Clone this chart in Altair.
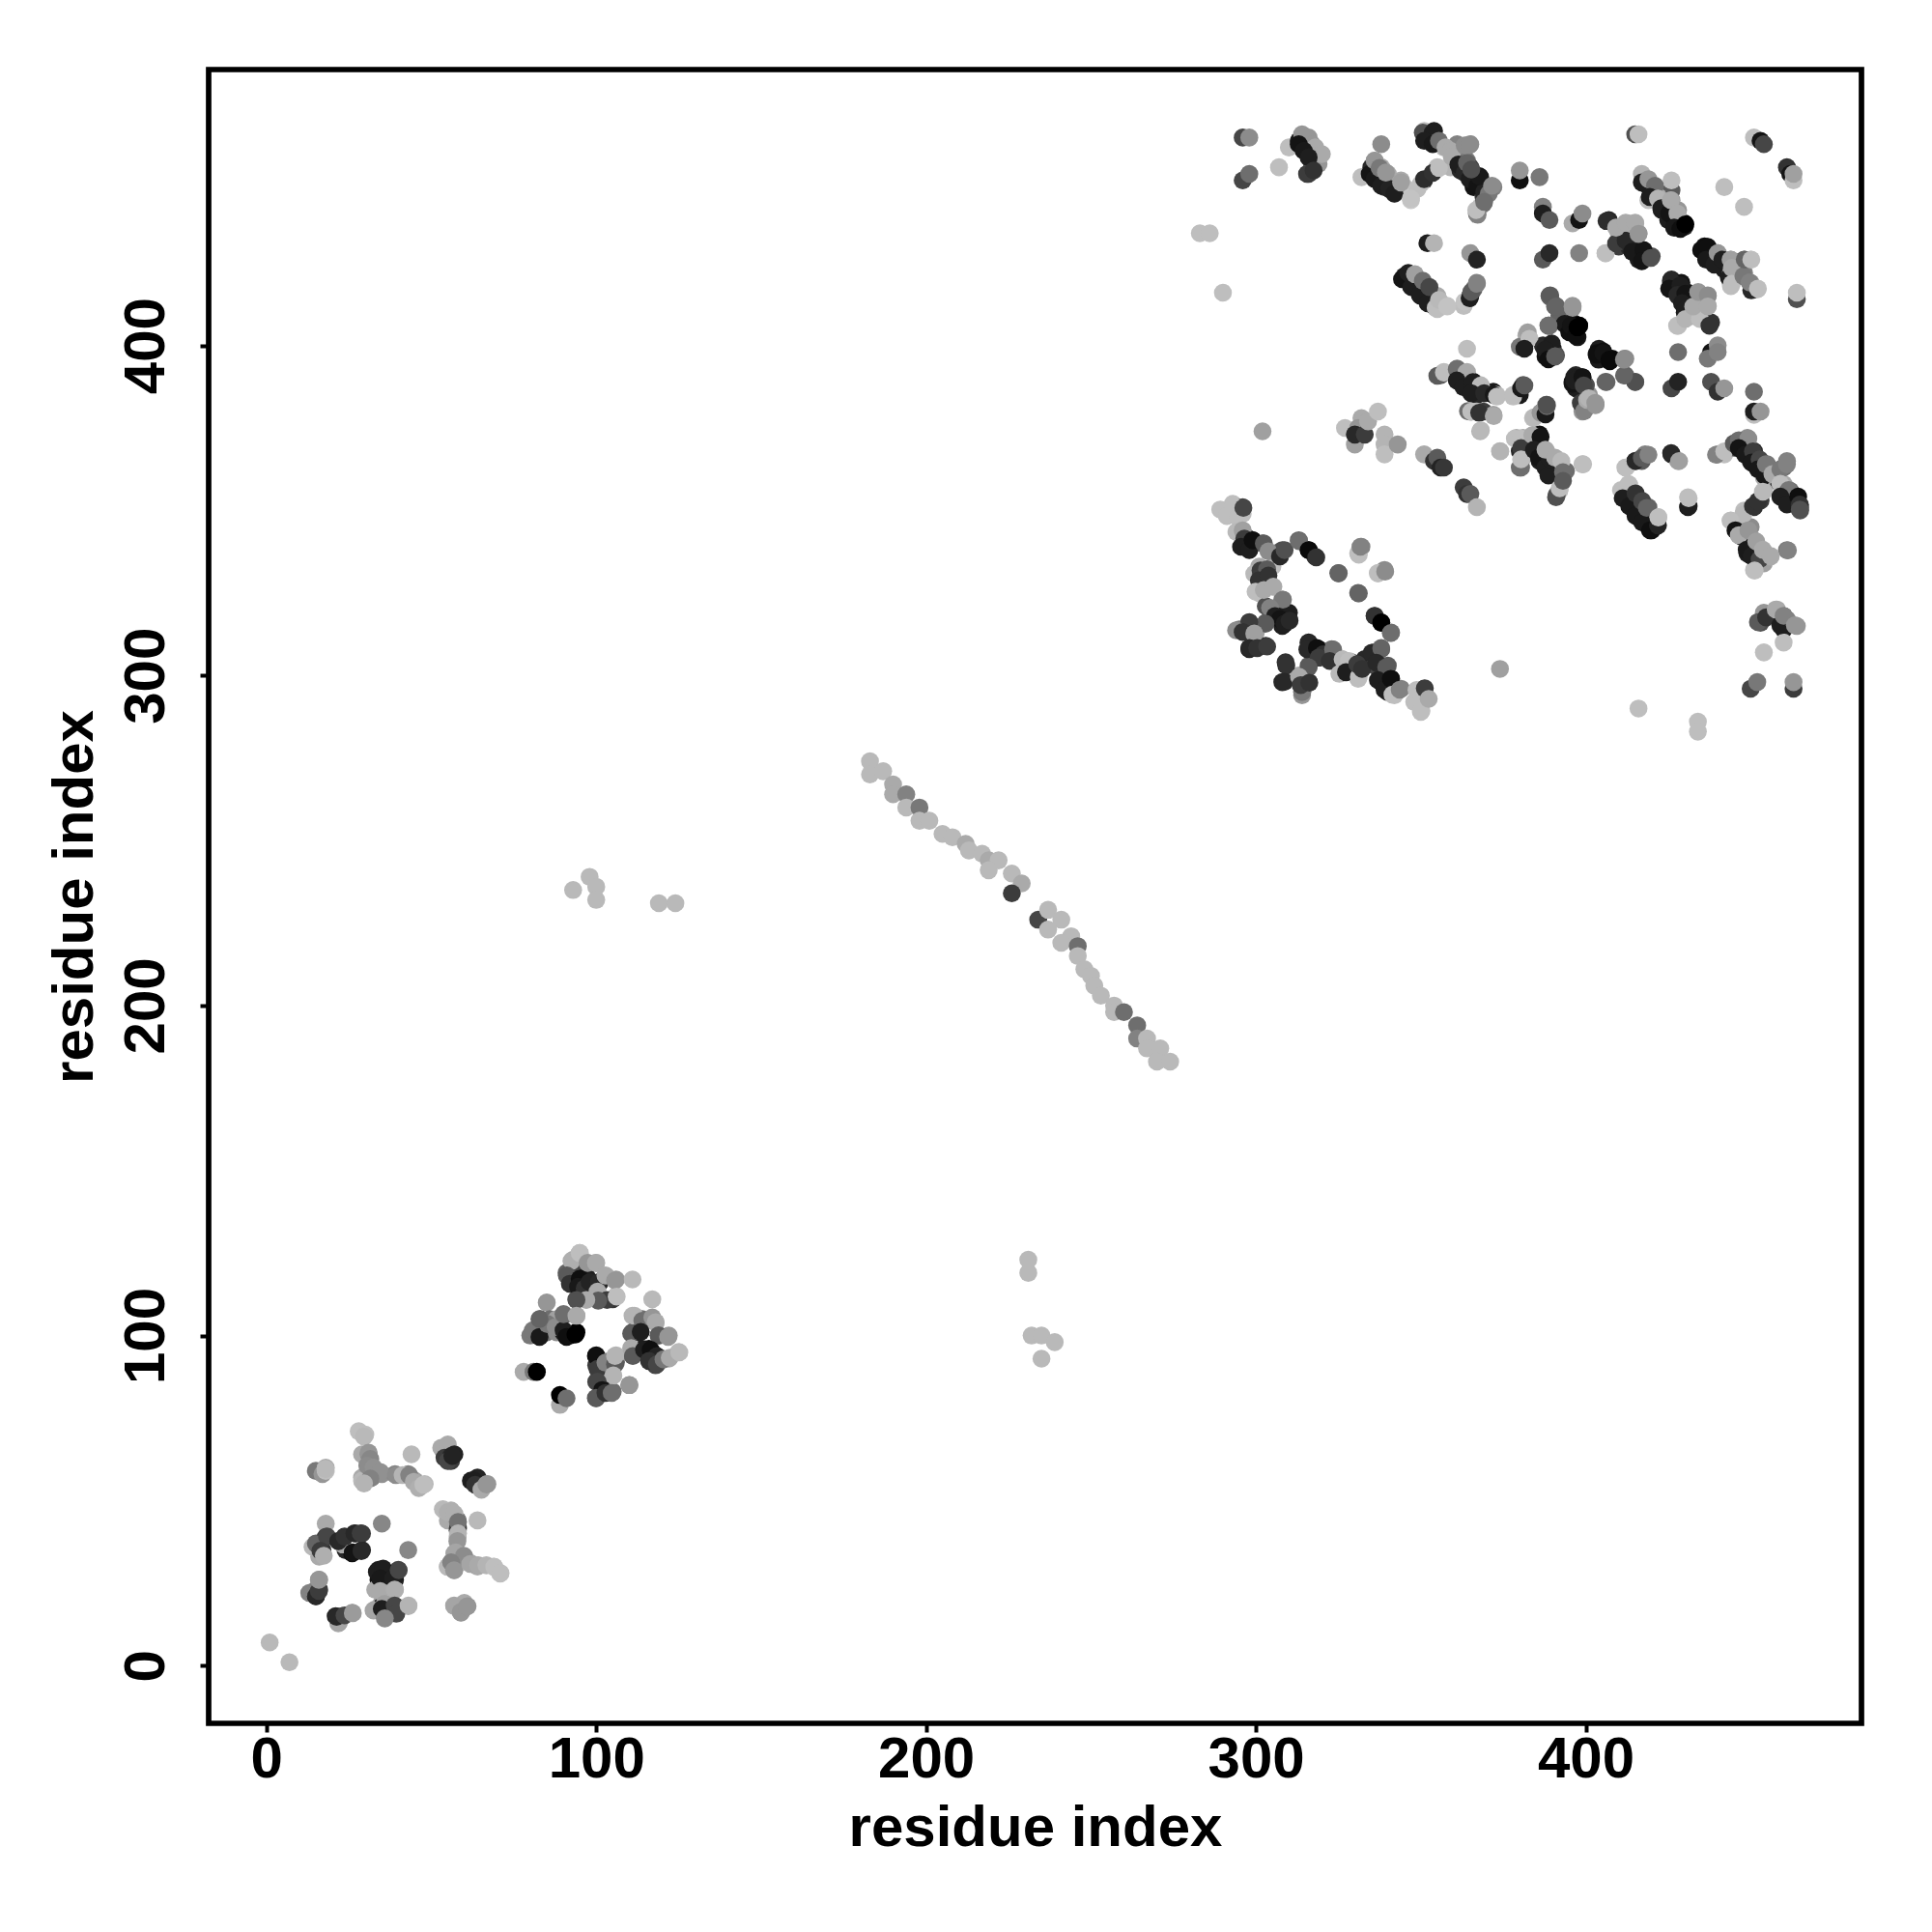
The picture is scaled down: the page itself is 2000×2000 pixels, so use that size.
import altair as alt
import pandas as pd

# (residue index x, residue index y, grey level 0-255), in drawing order
cluster_a = [(28,71,190),(30,70,190),(29,64,170),(31,64,140),(15,59,120),(18,60,170),(17,58,150),(18,59,190),
(29,57,170),(29,56,185),(32,57,120),(35,58,145),(39,58,130),(43,58,130),(45,56,160),(48,55,185),(44,64,185),
(53,66,170),(55,67,170),(54,63,60),(56,62,60),(57,64,35),(62,56,30),(64,57,35),(65,54,165),(67,55,150),
(54,47,190),(56,47,175),(55,44,170),(58,41,50),(58,44,115),(64,44,185),(58,39,165),(57,34,160),(60,33,130),
(55,30,190),(56,30,100),(57,29,150),(62,31,165),(64,30,170),(69,30,190),(71,28,190),(18,43,170),(35,43,135),(43,35,135),
(14,36,185),(15,37,100),(16,33,170),(18,39,60),(17,35,50),(23,38,170),(24,35,40),(27,40,30),(29,40,60),(26,34,15),(29,35,40),
(13,22,130),(15,21,30),(16,23,60),(16,26,145),(22,13,170),(21,15,35),(23,15,60),(26,16,150),
(34,29,30),(34,26,20),(36,28,15),(39,26,30),(40,29,70),(33,23,170),(39,23,175),(35,19,160),(33,17,165),(35,18,30),(39,18,70),(36,15,130),(43,18,180),
(57,18,165),(59,16,150),(60,19,170),(61,18,150),(1,7,185),(7,1,185)]

cluster_a_fine = [(29.6,69.4,185),(31,64.5,150),(31.5,62.6,135),(30.6,60.6,140),(32.5,60,145),(34.5,58.7,145),(31.5,56.7,130),(29.6,55.2,180),(39.3,57.7,140),(41.3,57.7,180),(43.3,57.7,130),(44.7,55.7,170),(46.2,53.8,175),(47.6,54.8,190),
(17.9,59.6,185),(56,63.5,40),(55,62,70),(56.4,63.5,35),(62.8,56.2,30),(63.3,54.8,50),(65.2,53.3,170),(66.7,54.9,150),
(53.5,47.4,185),(55,46.5,175),(57,46,175),(58.1,41.6,60),(58.1,43.5,115),(58.1,40.1,180),(57.9,37.7,150),(57.4,34.3,165),(59.9,33.3,140),(55,29.9,185),(56,31.3,130),(56.9,28.9,150),(61.8,30.8,165),(64.2,30.4,170),(66.7,30.4,180),(69.1,29.9,190),(70.9,27.9,190),
(15.4,36.7,100),(18.4,39.1,70),(16.4,34.8,60),(17.4,33.3,175),(23.2,36.7,170),(21.8,37.7,40),(23.7,39.1,50),(26.7,40.1,40),(28.6,40.1,60),(26.2,34.3,20),(28.8,34.7,40),
(14.5,22.6,130),(15.1,21.1,40),(15.9,22.6,60),(15.9,26,150),(21.8,12.8,165),(21.3,14.8,40),(23.7,15.2,70),(26.2,15.9,155),
(33.5,28.4,30),(35.4,29.4,30),(34.5,26.4,25),(38.4,26.4,30),(40.1,28.9,70),(34.5,22.6,170),(38.9,23,175),(35.9,18.7,160),(32.5,16.7,165),(35,17.2,30),(38.9,18.2,70),(39.4,15.7,70),(35.9,14.3,135),(43.1,18.2,180),
(56.9,18.2,165),(58.9,16.2,150),(60.8,17.9,150)]

cluster_b = [(95,125,190),(93,123,170),(97,122,150),(100,122,170),(91,119,100),(93,120,60),(95,121,70),(97,118,30),(95,117,15),(93,116,30),
(97,114,50),(94,111,80),(97,111,170),(103,118,170),(101,116,40),(106,117,150),(111,117,185),(100,114,170),(101,111,90),(105,111,50),(106,112,190),
(117,111,185),(111,106,180),(114,105,110),(117,105,150),(118,104,170),(111,101,90),(113,101,30),(119,100,90),(122,100,150),(111,96,170),(111,94,90),
(114,96,30),(116,96,15),(118,94,35),(116,93,50),(118,91,70),(120,93,120),(122,93,170),(125,95,185),(85,110,150),
(83,105,90),(90,106,100),(94,106,170),(86,105,110),(88,105,160),(80,100,120),(83,101,25),(85,101,120),(88,101,140),(90,101,30),(92,100,15),(94,101,0),
(78,89,170),(81,89,120),(82,89,0),(89,79,170),(89,82,0),(91,81,110),
(100,94,15),(100,91,60),(103,92,120),(106,92,90),(106,94,180),(105,88,180),(100,86,70),(102,84,20),(100,81,90),(102,83,50),(105,83,110),(110,85,150)]

cluster_b_fine = [(92.5,122.6,175),(95,125,190),(97.4,122,150),(99.9,122,170),(91.1,118.2,90),(92,115.7,50),(95,117.2,15),(94.5,114.8,25),(96.5,114.3,50),(98,116.2,35),(100.8,116.2,40),(102.8,118.2,170),(105.7,116.7,150),(100.4,113.3,170),(103.3,110.8,60),(100.6,110.6,90),(106.2,111.8,190),(97,110.8,170),(94,110.8,80),
(111.6,106,180),(114,104.5,110),(117,105.5,150),(118,104,170),(110.6,100.6,90),(113.5,101.1,30),(118.9,100.1,90),(121.8,99.6,150),(110.6,96.2,170),(111.1,93.8,90),(114.5,95.7,30),(116.5,95.7,15),(118.4,93.8,35),(116,92.3,50),(118.4,91.3,70),(120.4,92.8,120),(122.3,93.3,170),(125.2,94.9,185),
(80.8,101.6,120),(82.8,99.6,25),(85.2,103.5,120),(87.7,102.6,140),(90.1,101.6,30),(91,99.6,15),(93.7,100.3,0),(82.8,105,100),(90.1,106.5,110),(94,106,170),
(99.9,93.8,15),(100.4,89.9,60),(102.8,91.8,130),(105.7,91.3,90),(105.7,93.8,180),(105.2,87.9,180),(100.4,86,70),(101.8,83.5,20),(99.9,81.1,90),(102.8,82.6,50),(104.7,82.6,110),(110.1,85,150)]

off_diagonal = [(93,235,185),(98,239,185),(100,236,185),(100,232,185),(119,231,185),(124,231,185),
(231,123,185),(231,119,185),(232,100,185),(235,100,185),(239,98,185),(235,93,185)]

strand_pair = [(183,274,185),(183,270,185),(187,271,185),(190,267,170),(190,264,170),(194,264,130),(194,260,185),(198,260,120),(198,256,185),(201,256,185),
(205,252,185),(208,251,185),(212,249,170),(213,247,185),(217,246,185),(219,244,170),(222,244,185),(219,241,185),(226,240,185),(229,237,170),(226,234,60),
(234,226,70),(237,229,185),(241,226,185),(237,223,185),(244,221,185),(241,219,185),(246,218,110),(246,215,185),(248,211,185),(250,209,185),(251,206,185),
(253,203,185),(257,200,185),(257,198,185),(260,198,110),(264,194,110),(264,190,130),(267,190,185),(267,187,185),(271,187,185),(270,183,185),(274,183,185)]

domain_top_left = [(296,463,70),(298,463,140),(296,450,70),(298,452,110),(310,460,190),(307,454,190),(316,452,70),(317,455,90),(317,453,170),(319,455,150),
(313,462,30),(315,461,30),(316,460,40),(314,464,150),(316,463,150),(317,461,150),(318,460,170),(320,458,170),
(338,461,140),(332,451,190),(336,456,170),(335,454,40),(338,454,170),(337,450,30),(340,452,170),(339,448,50),(341,447,60),(344,450,170),(342,446,190),(345,448,190),(347,446,200),(347,444,200),
(351,465,190),(352,464,30),(354,465,30),(353,462,50),(355,462,110),(351,450,50),(350,449,190),(355,454,190),(357,460,190),(359,454,180),(360,459,150),(361,461,130),(365,461,140),(364,456,120),(365,454,60),(362,453,40),(366,452,60),(368,451,30),(366,448,20),
(367,440,110),(368,442,190),(369,443,110),(369,445,60),(369,446,50),(372,448,130),
(380,450,15),(380,453,150),(386,451,120),(387,442,130),(387,440,30),(389,438,90),(396,437,170),(398,438,20),(399,440,140)]

domain_top_mid = [(407,438,40),(406,428,190),(410,430,60),(413,430,40),(415,428,30),(417,429,20),(416,426,30),(420,427,80),(410,434,170),(413,437,170),(415,437,170),(416,434,150),
(387,426,90),(389,428,40),(398,428,130),(352,431,30),(354,431,180),(365,428,150),(367,426,35),(283,434,190),(286,434,190),(290,416,190),
(345,421,30),(347,421,130),(349,420,140),(347,418,30),(351,417,90),(350,415,30),(353,415,60),(355,415,170),(354,412,30),(355,411,190),(358,412,195),(363,412,190),(365,415,30),(366,417,100),(367,419,130),
(417,452,180),(419,450,150),(418,449,30),(421,448,120),(426,447,90),(426,450,190),(419,444,190),(422,445,170),(426,444,140),(423,441,30),(428,441,150),(425,438,30),(427,436,20),(430,436,40),(430,437,0),
(415,464,80),(416,464,190),(451,463,190),(453,462,20),(454,461,70),(461,454,50),(462,452,20),(463,450,190),(463,452,160),(442,448,190),(448,442,190)]

domain_top_right = [(436,430,15),(437,428,25),(440,428,150),(441,426,60),(444,426,150),(442,423,30),(444,422,170),(448,426,90),(450,426,190),(448,422,130),(444,419,40),(444,418,190),(450,419,150),(451,417,60),(452,417,190),
(464,414,80),(464,416,190),(426,420,40),(427,418,30),(429,419,20),(428,415,30),(431,416,20),(430,410,30),(428,406,190),(438,407,50),(432,409,150),(433,412,170),(434,416,150),(437,415,140),(437,412,170),
(389,415,90),(391,412,110),(389,406,110),(392,409,100),(396,412,150),(396,407,20),(397,404,15),(398,406,0),
(381,400,150),(382,403,170),(383,402,190),(387,400,40),(390,399,30),(388,397,15),(391,397,80),(404,399,30),(405,397,15),(408,396,10),(406,389,100),(415,389,80),(412,391,100),(412,396,140),
(428,398,110),(438,398,20),(437,396,120),(440,400,140),(440,398,130),(426,387,70),(428,389,35),(438,389,80),(440,386,50),(442,387,150),(451,386,110),(451,379,190),(451,380,30),(453,380,150)]

domain_mid = [(397,391,40),(396,389,15),(400,388,70),(397,387,30),(399,380,150),(400,381,100),(401,385,150),(403,382,140),(364,399,190),
(356,391,90),(357,392,190),(361,393,120),(364,392,170),(362,389,20),(364,387,30),(366,389,30),(368,388,190),(367,385,40),(372,386,25),(373,385,190),(378,385,190),(380,385,25),(381,388,90),
(365,380,90),(367,380,190),(369,380,60),(372,379,160),(368,374,180),(384,378,190),(387,380,20),(388,382,110),
(327,375,190),(332,378,170),(330,370,160),(331,375,150),(330,373,40),(333,373,60),(334,377,170),(337,380,190),(339,373,180),(339,370,180),(339,367,190),(343,370,150),(302,374,160),
(351,367,170),(354,365,50),(355,366,90),(356,363,35),(357,363,55),(363,357,60),(364,355,50),(365,355,90),(367,351,180),
(374,368,180),(379,372,170),(381,372,170),(380,368,40),(380,363,110),(381,366,180),(385,373,190),(386,373,15),(385,369,30),(388,368,170),(386,365,30),(389,365,20),(391,365,170),(388,363,30),(391,354,80),(392,356,190),(393,360,90),(394,362,110),(399,364,190)]

domain_right = [(412,363,190),(415,365,35),(417,365,90),(418,367,130),(426,367,40),(428,365,160),(431,351,25),(431,354,190),
(411,356,190),(413,358,190),(412,354,40),(415,355,50),(415,351,30),(417,353,80),(419,351,100),(417,348,30),(419,345,25),(420,344,15),(421,345,35),(422,348,190),
(440,367,160),(442,367,190),(445,369,70),(447,371,130),(449,372,140),(448,368,20),(451,368,35),(450,365,40),(453,365,80),(455,364,120),(456,359,40),(454,360,170),(461,365,130),(460,363,110),(460,358,170),(462,356,100),(460,354,30),(464,354,20),(463,352,40),(465,351,60),(465,350,80),
(448,350,190),(451,351,50),(453,353,60),(454,356,180),(444,347,190),(447,346,170),(447,343,25),(449,342,30),(450,345,140),(451,341,150),(449,337,30),(451,336,70),(453,338,170),(451,332,190),(454,334,160),(456,336,170),(461,338,120),
(453,316,80),(454,319,150),(458,320,170),(460,318,50),(460,314,30),(461,317,130),(464,315,150),(460,310,190),(454,307,190),(450,296,70),(452,298,120),(463,296,60),(463,298,150)]

domain_low = [(290,350,190),(293,352,190),(292,349,190),(296,349,190),(296,351,70),(295,344,170),(297,342,60),(299,341,15),(298,339,40),(302,340,90),(306,337,50),(308,338,80),(313,341,100),(316,338,10),(318,336,50),
(331,337,190),(332,339,130),(325,331,100),(337,331,190),(339,332,140),(331,325,100),
(300,331,190),(301,333,170),(303,331,60),(303,330,50),(305,333,190),(301,325,190),(305,327,170),(303,321,80),(308,323,120),
(307,318,20),(310,319,30),(310,317,30),(308,315,30),(303,316,90),(298,316,50),(295,314,120),(300,313,160),(298,308,30),(303,309,50),
(336,318,50),(338,316,0),(341,313,110),(316,310,30),(316,308,40),(319,308,10),(321,306,50),(323,308,110),(326,305,170),(327,302,190),(329,304,60),(331,299,190),(331,303,50),(333,305,40),(336,303,70),(336,307,50),(338,308,90),(340,303,90),(338,298,30),(341,299,15),(340,295,30),(342,294,190),(344,296,130),
(309,304,50),(308,298,40),(316,303,90),(314,294,150),(314,295,120),(313,300,170),(316,298,50),
(350,289,190),(348,292,190),(350,295,190),(351,296,60),(352,293,170),(374,302,160),(416,290,190),(434,286,190),(434,283,190)]

# finer readings of the dense strips, drawn on top
strips_top_left = [(313,461,20),(314.5,459,25),(316,457,30),(315.5,452,60),(317.5,453,50),
(334.5,452,20),(336,450.4,25),(338,448.4,30),(340.4,447.5,35),(342,446,30),(336,456,150),(337.5,453.8,120),(339.4,452.4,150),(344,449.4,160),(349,447.5,190),(347,444.5,195),
(351,450.4,45),(353.6,452.3,50),(355.5,453.8,190),
(350.6,464.5,80),(353.6,464.5,30),(351,462,30),(353.6,461,25),(355.5,462,110),(357.5,460,170),(359,459,170),(359.4,457.2,170),(361.4,454.8,30),(363.3,452.3,40),(364.8,450.4,30),(367.2,448.4,20),(369.2,446.5,35),(367.7,451.3,25),(364,455.3,100),(365.3,453.3,80),(363.3,460.6,140),(364.8,460.8,140),(370.6,446,120),(371.6,448.4,140),(367.2,439.6,130),(366.8,441,190),(369.2,443.5,110),
(344.3,420.1,20),(346.2,422,30),(347.2,417.7,30),(349.7,415.3,30),(352.1,412.8,30),(348.2,421.6,160),(350.6,419.6,110),(352.6,417.7,70),(354.5,411.4,190),(355.5,413.8,185),(358,411.8,195),(363.3,413.3,195),(364.8,414.3,30),(365.3,416.2,90),(367,418.7,130)]

strips_top_right = [(417,449.4,30),(419,450.4,150),(421,448.4,110),(419.4,445,30),(421.9,444.5,180),(422.9,441.6,30),(425.3,440,20),(425.8,444,170),(427.8,440,170),(426.8,435.7,25),(428.7,435.3,15),(430.2,436.7,0),
(435,428.9,15),(437,429.9,15),(436.5,426,25),(439,424.5,30),(440,428,150),(441.4,426,30),(443.4,420.6,30),(443.9,426,160),(444.3,423.5,170),(444.3,418.7,190),(450.2,416.7,40),(447.8,421,120),(449.7,419.1,130),(448.2,426,100),(450.2,426,190),(452.2,417.2,190),
(425.8,419.6,40),(425.3,417.2,20),(428.7,418.2,30),(427.8,415.3,40),(430.2,415.7,20),(429.2,412.8,30),(430.2,410.9,30),(427.7,406,190),(430.2,408,180),(434.6,408,190),(437.5,406,50),(432.6,411.8,170),(434.1,416.2,150),(437,415.2,140),(437,411.8,170),
(406.3,437.7,45),(406,427.9,190),(409.2,430.9,60),(412.1,431.8,40),(414.1,428.4,25),(417.5,428.9,20),(417,425.5,20),(419.7,426.5,80),(409.2,435.7,170),(412.1,437.2,170),(415,437.2,170),(416,433.8,150),
(389.2,415.2,90),(391,411.8,100),(388.7,406,110),(395.5,406,20),(397,403,15),(397.5,405.5,0),(396,411.8,150),
(387.7,398.7,30),(388.7,395.8,15),(390.7,396.7,90),(403.3,397.2,15),(405.3,397.7,20),(407.2,395.7,10),(406.3,388.9,100),(415,388.9,80),(411.6,390.9,100),(411.6,395.7,140),
(396.5,389.4,30),(399,390.4,20),(399.4,387.9,70),(400.9,384,180),(402.9,382.6,150),(388.2,382,80)]

strips_centre = [(355,390.8,90),(357,391.8,190),(360.9,392.8,110),(363.8,391.8,170),(360.9,389.4,30),(362.9,387.4,30),(365.8,388.9,30),(368.2,387.9,185),(365.3,385.5,30),(369.2,385.5,40),(372.1,385,25),(373.1,384.5,190),
(378,384.5,190),(380.4,387,25),(381.4,387.9,90),(364.3,380.1,110),(365.3,380,190),(367.7,379.6,50),(372.1,378.6,170),(368.2,374.3,185),
(384.3,378.2,185),(386.3,379.6,150),(387.8,379.1,25),(388.2,381.6,110),(378.5,371.8,190),(380.4,371.8,190),(374.1,367.9,180),(380.4,368.9,60),(380.4,363,110),(380.4,365.5,190),
(383.8,372.8,170),(386.3,372.3,20),(384.3,368.4,30),(385.8,366,20),(387.8,363,30),(388.7,360.6,30),(389.2,365.5,30),(387.8,368.4,170),(390.7,366,170),(391.2,354.7,80),(392.1,356.7,190),(392.6,365,185),(393.1,361.6,110),(393.1,359,90),(399.2,364,190),
(380,399.6,120),(382.4,404,160),(382.9,402,190),(381.4,399,30),(387.3,399.6,40),(389.7,400.6,30),(387.8,396.7,20),(390.7,396.7,80),(403.4,397.7,15),(405.3,398.2,15),(403.9,395.7,25),(407.3,395.2,10),(411.7,396,140),
(396.5,390.4,30),(396,388.4,20),(399,390.4,20),(400,387.9,80),(398.5,382.6,60),(399.5,380.1,130),(400.4,383.5,170),(402.9,382,150),
(389.2,414.7,100),(390.7,411.8,100),(388.7,406,110),(396,411.4,150),(393.6,406.5,25),(395,404,15),(397.5,402.5,20),(398,406,0)]

strips_right = [(410.7,356.2,190),(413.2,357.7,190),(411.2,353.7,30),(413.2,351.3,25),(415.1,348.4,25),(417.1,346.4,25),(419.5,344,15),(421.9,345.5,35),(415.1,355.2,50),(417.1,352.8,70),(418.5,350.8,100),(422,347.9,190),
(412.2,363,190),(415.1,365,40),(417,365.9,90),(419,366.9,130),(425.9,367.4,40),(428.3,365,160),(431.2,351.3,30),(431.2,353.7,190),
(439.5,366.9,130),(442,367.9,190),(444.9,370.3,90),(446.4,371.3,110),(449.3,371.8,140),(446.4,368.9,20),(448.3,366.9,25),(450.7,367.9,60),(450.3,364.5,25),(452.7,365.5,70),(452.2,362.5,25),(454.2,360.6,25),(454.6,364,120),(456.6,361,170),(459,362.5,120),(461,364,130),(459,358.1,190),(461.5,356.2,120),(459,354.2,30),(461,351.8,30),(464.4,354.2,15),(464.9,351.8,50),(464.9,350.3,80),
(447.8,348.9,185),(450.7,351.3,50),(452.2,352.8,50),(453.7,355.7,185),(443.9,346.9,190),
(445.4,344,20),(447.3,342,25),(446.4,342.5,170),(448.8,338.1,25),(450.3,336.2,30),(449.3,344,150),(451.7,340.6,160),(452.7,335.2,70),(453.7,338.1,170),(456.1,336.2,170),(451.2,331.8,190),(461.3,337.9,130),
(452.2,316.2,90),(454.7,317.6,50),(457.6,320,170),(459,315.2,30),(460,318.1,130),(463.4,315.2,150)]

strips_low = [(289.2,350.3,190),(291.2,348.3,190),(293.1,351.3,190),(294.6,347.9,190),(296.2,350.8,70),
(294.1,343.5,185),(296,344,160),(296.5,341.5,60),(295.5,339,30),(298,338,30),(299,341,15),(302.4,340,90),(303.8,337.6,140),(307.3,336.1,40),(308.7,338,80),(313.1,340.7,110),(316,338,10),(318.3,335.8,50),
(331.2,336.6,190),(331.7,339,130),(325.1,331,100),(337,331,190),(339.2,331.5,140),(331.2,324.9,100),
(299.5,330.8,185),(301.4,331.8,60),(303.4,332.2,90),(300.9,328.8,50),(303.8,330.3,50),(299.9,325.4,190),(302.4,325.9,170),(305.3,326.9,170),(308.2,323,120),(304.3,320.5,130),
(305.8,318,30),(307.3,317.1,20),(308.7,315.7,30),(310.2,316.6,40),(302.9,315.7,90),(298,316.2,60),(294,313.7,140),(296,313.2,50),(299.5,312.7,160),(298,308.3,40),(300.4,308.3,50),(303.4,308.8,60),
(336,318.1,50),(338,316.1,0),(340.9,312.9,110),(316,309.8,40),(315.6,307.9,40),(318.5,308.3,15),(320.4,306.4,50),(319,305.4,60),(323.4,307.9,110),(322.4,304.4,50),(325.3,300.5,185),(326.3,304.9,185),(328.2,304.4,190),(327.3,301,30),(331.2,299.6,190),(330.7,303.4,60),(332.2,302,50),
(335.1,306.9,40),(338,308.3,100),(336.5,303.9,40),(339.5,302.5,90),(337,298.6,30),(339,295.7,30),(340.9,299,15),(341.4,294.2,190),(343.6,295.7,130),
(309.2,303,50),(308.7,298.1,40),(316,302.5,90),(313.1,299.6,170),(314.1,295.2,120),(313.6,297.1,60),(316.2,297.8,50),
(348.7,291.8,190),(350.2,289.3,190),(348.7,295.6,190),(351.2,296.1,60),(352.4,292.9,170)]

x_ticks = [0, 100, 200, 300, 400]
y_ticks = [0, 100, 200, 300, 400]
axis_domain = [-17.5, 483.6]
axis_title = "residue index"

rows = (cluster_a + cluster_a_fine + cluster_b + cluster_b_fine + off_diagonal + strand_pair + domain_low + domain_mid
        + domain_top_left + domain_top_mid + domain_top_right + domain_right
        + strips_low + strips_centre + strips_top_left + strips_top_right + strips_right)
df = pd.DataFrame(rows, columns=["i", "j", "shade"])
df["order"] = range(len(df))

FONT = "Liberation Sans"

x_axis = alt.Axis(values=x_ticks, title=axis_title, grid=False, domain=False, tickColor="black", tickWidth=4, tickSize=9,
                  labelFont=FONT, labelFontWeight="bold", labelFontSize=60, labelColor="black", labelPadding=-1,
                  labelOverlap=False, labelFlush=False,
                  titleFont=FONT, titleFontWeight="bold", titleFontSize=60, titleColor="black", titlePadding=12)
y_axis = alt.Axis(values=y_ticks, title=axis_title, grid=False, domain=False, tickColor="black", tickWidth=4, tickSize=9,
                  labelFont=FONT, labelFontWeight="bold", labelFontSize=60, labelColor="black", labelAngle=270,
                  labelAlign="center", labelBaseline="alphabetic", labelPadding=38,
                  labelOverlap=False, labelFlush=False,
                  titleFont=FONT, titleFontWeight="bold", titleFontSize=60, titleColor="black", titlePadding=13)

chart = (
    alt.Chart(df)
    .mark_circle(size=345, opacity=1)
    .encode(
        x=alt.X("i:Q", scale=alt.Scale(domain=axis_domain, nice=False, zero=False), axis=x_axis),
        y=alt.Y("j:Q", scale=alt.Scale(domain=axis_domain, nice=False, zero=False), axis=y_axis),
        color=alt.Color("shade:Q", scale=alt.Scale(domain=[0, 255], range=["#000000", "#ffffff"], interpolate="rgb"), legend=None),
        order=alt.Order("order:Q"),
    )
    .properties(width=1711, height=1712, autosize="none", background="white",
                padding={"left": 208, "top": 64, "right": 60, "bottom": 200})
    .configure_view(stroke="black", strokeWidth=5.7)
)

chart.save("out.html", embed_options={"renderer": "svg", "actions": False})
